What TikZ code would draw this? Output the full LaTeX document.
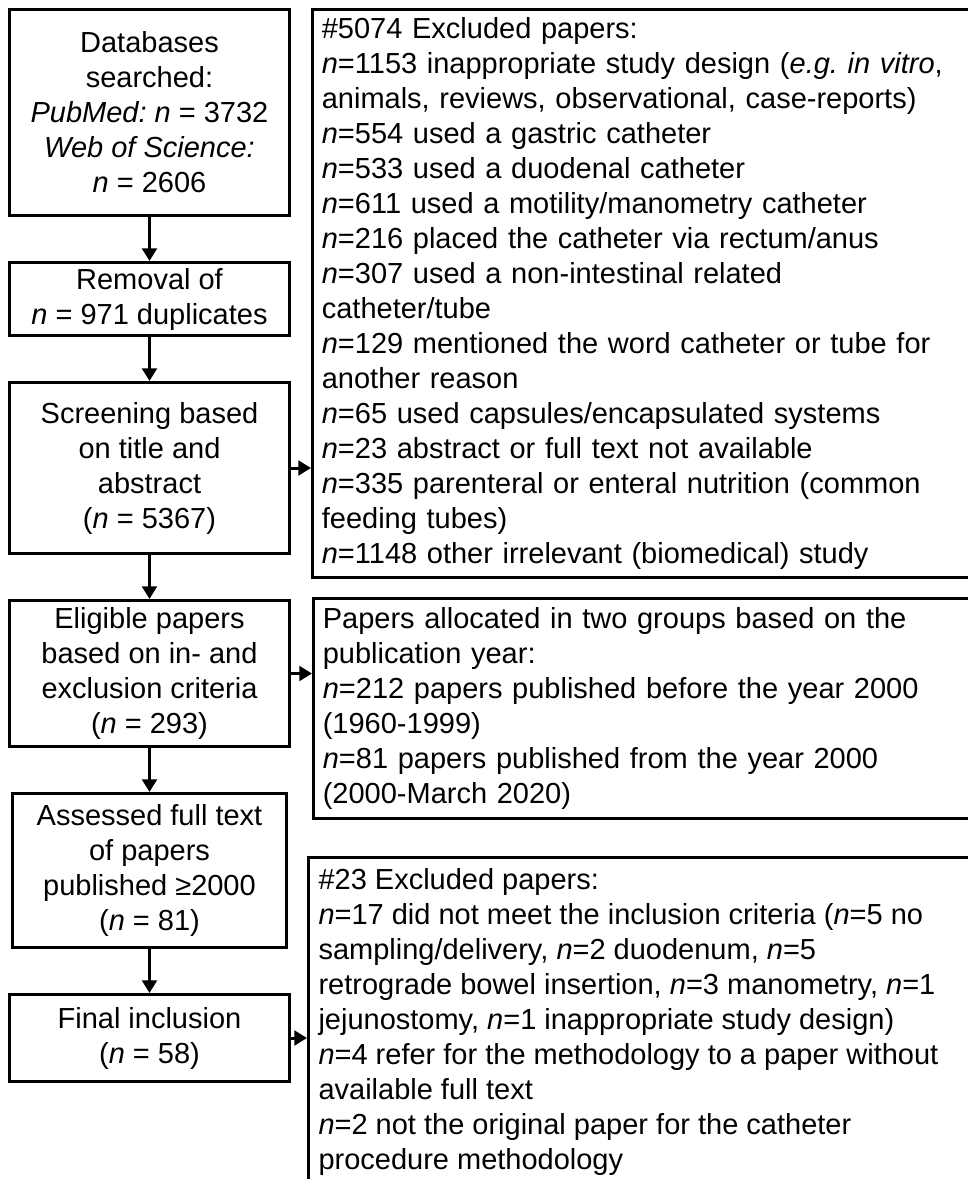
\documentclass[tikz,border=0pt]{standalone}
\usepackage{fontspec}
\setmainfont{Liberation Sans}
\usetikzlibrary{positioning,arrows.meta}
\tikzset{
  >={Triangle[width=11pt,length=9.5pt]},
}
\newcommand{\nn}{\textit{n}}
\frenchspacing

\begin{document}
\begin{tikzpicture}[
  x=0.75pt,y=-0.75pt,
  line width=2.25pt,
  node distance=44*0.75pt,
  every node/.style={font=\fontsize{21.75pt}{26.25pt}\selectfont},
  stepbox/.style={draw,align=center,inner sep=1pt,minimum width=280*0.75pt},
  infobox/.style={draw,align=left,anchor=north west,inner xsep=7pt,inner ysep=1.5pt,text width=680*0.75pt}
]
\useasboundingbox (0,0) rectangle (968,1179);
\clip (0,0) rectangle (968,1179);

% Steps
\node[stepbox,anchor=north west,minimum height=206*0.75pt] (db) at (8,8)
  {Databases\\searched:\\\textit{PubMed: n} = 3732\\\textit{Web of Science:}\\\nn{} = 2606};
\node[stepbox,below=of db,minimum height=73*0.75pt] (rem)
  {Removal of\\\nn{} = 971 duplicates};
\node[stepbox,below=of rem,minimum height=171*0.75pt] (scr)
  {Screening based\\on title and\\abstract\\(\nn{} = 5367)};
\node[stepbox,below=of scr,minimum height=146*0.75pt] (elig)
  {Eligible papers\\based on in- and\\exclusion criteria\\(\nn{} = 293)};
\node[stepbox,below=of elig,minimum height=154*0.75pt,minimum width=274*0.75pt] (ass)
  {Assessed full text\\of papers\\published ≥2000\\(\nn{} = 81)};
\node[stepbox,below=of ass,minimum height=87*0.75pt] (fin)
  {Final inclusion\\(\nn{} = 58)};

% Side boxes
\node[infobox,minimum height=568*0.75pt] (exc1) at (311,8)
  {\#5074 Excluded papers:\\
   \nn=1153 inappropriate study design (\textit{e.g. in vitro},\\
   animals, reviews, observational, case-reports)\\
   \nn=554 used a gastric catheter\\
   \nn=533 used a duodenal catheter\\
   \nn=611 used a motility/manometry catheter\\
   \nn=216 placed the catheter via rectum/anus\\
   \nn=307 used a non-intestinal related\\
   catheter/tube\\
   \nn=129 mentioned the word catheter or tube for\\
   another reason\\
   \nn=65 used capsules/encapsulated systems\\
   \nn=23 abstract or full text not available\\
   \nn=335 parenteral or enteral nutrition (common\\
   feeding tubes)\\
   \nn=1148 other irrelevant (biomedical) study};
\node[infobox,minimum height=220*0.75pt] (alloc) at (312,597)
  {Papers allocated in two groups based on the\\
   publication year:\\
   \nn=212 papers published before the year 2000\\
   (1960-1999)\\
   \nn=81 papers published from the year 2000\\
   (2000-March 2020)};
\node[infobox,minimum height=400*0.75pt] (exc2) at (307,856) {};
\node[anchor=north west,align=left,inner sep=0pt] (exc2txt) at ([xshift=7.5pt,yshift=-8.25pt]exc2.north west)
  {\#23 Excluded papers:\\
   \nn=17 did not meet the inclusion criteria (\nn=5 no\\
   sampling/delivery, \nn=2 duodenum, \nn=5\\
   retrograde bowel insertion, \nn=3 manometry, \nn=1\\
   jejunostomy, \nn=1 inappropriate study design)\\
   \nn=4 refer for the methodology to a paper without\\
   available full text\\
   \nn=2 not the original paper for the catheter\\
   procedure methodology};

% Arrows
\path[->]
  (db) edge (rem)
  (rem) edge (scr)
  (scr) edge (elig)
  (elig) edge (ass)
  (ass) edge (fin)
  (scr.east) edge (scr.east -| exc1.west)
  (elig.east) edge (elig.east -| alloc.west)
  (fin.east) edge (fin.east -| exc2.west);

\end{tikzpicture}
\end{document}
